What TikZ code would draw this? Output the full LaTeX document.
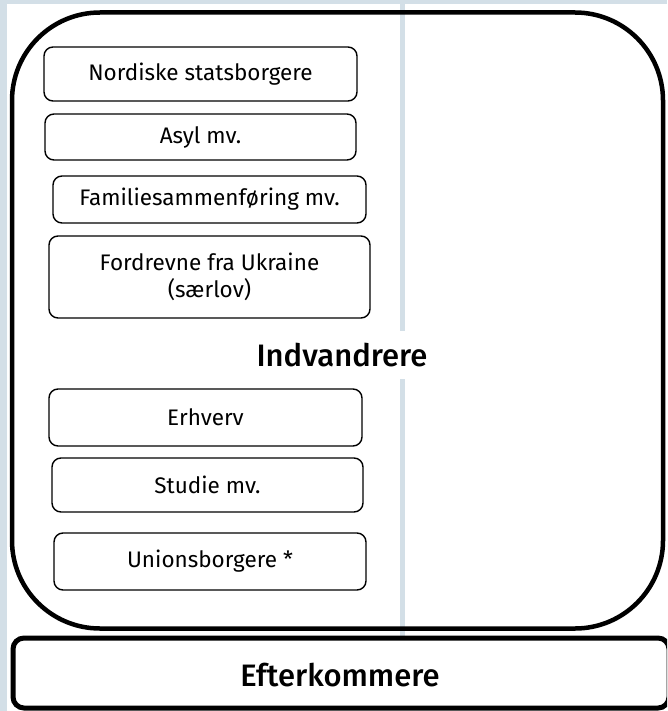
\documentclass[tikz,border=0pt]{standalone}
\usepackage{fontspec}
\setmainfont{Fira Sans}
\newfontfamily\headfont{Fira Sans Medium}
\definecolor{gridblue}{HTML}{D3DFE7}
\tikzset{
  catbox/.style={draw=black, line width=1.4pt, rounded corners=9pt, fill=white, align=center, font=\fontsize{22.5}{27}\selectfont, inner sep=0pt},
  bigbox/.style={draw=black, line width=4.5pt, rounded corners=88pt},
  endbox/.style={draw=black, line width=5pt, rounded corners=11pt, fill=white},
  headlabel/.style={font=\headfont\fontsize{31}{34}\selectfont, fill=white, inner sep=4pt},
}
\begin{document}
\begin{tikzpicture}[x=1pt,y=-1pt]
\useasboundingbox (0,0) rectangle (667,711);
\fill[white] (0,0) rectangle (667,711);
% background grid
\fill[gridblue] (0,0) rectangle (667,4.5);
\fill[gridblue] (0,0) rectangle (6.5,711);
\fill[gridblue] (400,0) rectangle (405,636);
% big Indvandrere box
\node[bigbox, minimum width=651pt, minimum height=616pt, inner sep=0pt] (indv) at (337.5,320.5) {};
\node[headlabel, minimum height=48pt] (indvlabel) at (342,355) {Indvandrere};
% category boxes
\node[catbox, minimum width=313pt, minimum height=54pt] (nord) at (200.5,74) {Nordiske statsborgere};
\node[catbox, minimum width=311pt, minimum height=46pt] (asyl) at (200.5,137) {Asyl mv.};
\node[catbox, minimum width=313pt, minimum height=47pt] (fam) at (209.5,199.5) {Familiesammenføring mv.};
\node[catbox, minimum width=321pt, minimum height=82pt] (ukr) at (209.5,277) {Fordrevne fra Ukraine\\(særlov)};
\node[catbox, minimum width=313pt, minimum height=57pt] (erh) at (205.5,417.5) {Erhverv};
\node[catbox, minimum width=311pt, minimum height=54pt] (stud) at (207.5,485) {Studie mv.};
\node[catbox, minimum width=312pt, minimum height=57pt] (union) at (210,561.5) {Unionsborgere *};
% Efterkommere box
\begin{scope}
\clip (0,0) rectangle (667,711);
\node[endbox, minimum width=656pt, minimum height=70pt, inner sep=0pt] (efter) at (341,673) {};
\end{scope}
\node[font=\headfont\fontsize{31}{34}\selectfont] (efterlabel) at (340,675) {Efterkommere};
\end{tikzpicture}
\end{document}
